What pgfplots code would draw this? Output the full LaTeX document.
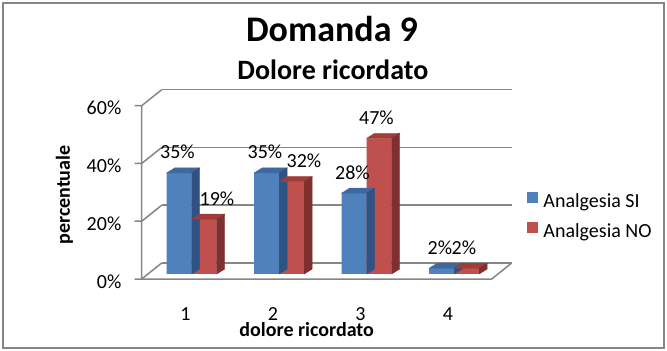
\documentclass[border=0pt]{standalone}
\usepackage{pgfplots}
\pgfplotsset{compat=1.18}
\usepackage{pgfplotstable}
\usepackage{fontspec}
\setmainfont{Carlito}
\definecolor{sifront}{HTML}{4F81BD}
\definecolor{sitop}{HTML}{3D68A0}
\definecolor{siside}{HTML}{2F5283}
\definecolor{nofront}{HTML}{C0504D}
\definecolor{notop}{HTML}{A03D3A}
\definecolor{noside}{HTML}{7D302E}
\definecolor{gridc}{HTML}{868686}
\pgfdeclareplotmark{nothing}{}
\pgfplotstableread{
x si no lsi lno
1 35 19 -8 31.5
2 35 32 -8 31
3 28 47 -8 16
4 2 2 -8 16
}\data
\newcommand{\sm}{\fontsize{20bp}{24bp}\selectfont}
\begin{document}
\begin{tikzpicture}
\useasboundingbox (0,0) rectangle (667bp,351bp);
\draw[gridc, line width=2.4bp] (2.9bp,3.2bp) rectangle (664bp,348.1bp);
\node[anchor=base] at (332bp,309.3bp) {\bfseries\fontsize{36bp}{40bp}\selectfont Domanda 9};
\node[anchor=base] at (332.9bp,271bp) {\bfseries\fontsize{28bp}{32bp}\selectfont Dolore ricordato};
\begin{axis}[
  at={(141.7bp,72bp)}, anchor=south west, scale only axis,
  width=350bp, height=173.3bp,
  xmin=0.5, xmax=4.5, ymin=0, ymax=60, clip=false,
  axis line style={draw=none}, tick style={draw=none},
  xtick={1,2,3,4}, xticklabels={1,2,3,4},
  ytick={0,20,40,60}, yticklabels={0\%,20\%,40\%,60\%},
  xticklabel style={anchor=base, inner sep=0pt, yshift=-41bp, font=\sm},
  yticklabel style={anchor=base east, inner sep=0pt, xshift=-20.2bp, yshift=-9bp, font=\sm},
  ymajorgrids, major grid style={draw=gridc, line width=1.5bp, xshift=20bp, yshift=16bp},
  xlabel={\textbf{dolore ricordato}},
  xlabel style={at={(axis description cs:0.4714,-0.3290)}, anchor=base, inner sep=0pt, font=\sm},
  ylabel={\textbf{percentuale}},
  ylabel style={at={(axis description cs:-0.2049,0.4847)}, anchor=base, inner sep=0pt, font=\sm},
  legend style={draw=none, fill=none, at={(1.1017,0.502)}, anchor=north west, inner sep=0pt,
    row sep=10bp, column sep=5bp, font=\sm,
    nodes={inner sep=0pt, text height=14bp, text depth=5bp}},
  legend cell align=left,
]
\draw[gridc, line width=1.5bp] (axis cs:0.5,60) -- (axis cs:0.5,0) -- (axis cs:4.5,0) -- ([xshift=20bp,yshift=16bp]axis cs:4.5,0);
\draw[gridc, line width=1.5bp] ([xshift=-7bp]axis cs:0.5,0) -- (axis cs:0.5,0) -- ([xshift=20bp,yshift=16bp]axis cs:0.5,0);
\draw[gridc, line width=1.5bp] ([xshift=-7bp]axis cs:0.5,20) -- (axis cs:0.5,20) -- ([xshift=20bp,yshift=16bp]axis cs:0.5,20);
\draw[gridc, line width=1.5bp] ([xshift=-7bp]axis cs:0.5,40) -- (axis cs:0.5,40) -- ([xshift=20bp,yshift=16bp]axis cs:0.5,40);
\draw[gridc, line width=1.5bp] ([xshift=-7bp]axis cs:0.5,60) -- (axis cs:0.5,60) -- ([xshift=20bp,yshift=16bp]axis cs:0.5,60);

\addplot[ybar, bar width=25bp, bar shift=-6.25bp, fill=sifront, draw=none, yshift=5bp,
  legend image code/.code={\fill[sifront] (0bp,-5.5bp) rectangle (11bp,5.5bp);}]
  table[x=x,y=si]{\data};
\addlegendentry{Analgesia SI}
\addplot[forget plot, scatter, only marks, mark=nothing,
  visualization depends on={\thisrow{si} \as \vv},
  scatter/@pre marker code/.code={%
    \pgfkeys{/pgf/fpu=false}%
    \pgfmathsetmacro\yb{10-\vv*2.8883}%
    \pgfmathsetmacro\yc{5-\vv*2.8883}%
    \fill[sitop] (-18.75bp,5bp) -- (-10.75bp,10bp) -- (14.25bp,10bp) -- (6.25bp,5bp) -- cycle;
    \fill[siside] (6.25bp,5bp) -- (14.25bp,10bp) -- (14.25bp,\yb bp) -- (6.25bp,\yc bp) -- cycle;
  },
  scatter/@post marker code/.code={}]
  table[x=x,y=si]{\data};

\addplot[ybar, bar width=25bp, bar shift=18.75bp, fill=nofront, draw=none, yshift=5bp,
  legend image code/.code={\fill[nofront] (0bp,-5.5bp) rectangle (11bp,5.5bp);}]
  table[x=x,y=no]{\data};
\addlegendentry{Analgesia NO}
\addplot[forget plot, scatter, only marks, mark=nothing,
  visualization depends on={\thisrow{no} \as \vv},
  scatter/@pre marker code/.code={%
    \pgfkeys{/pgf/fpu=false}%
    \pgfmathsetmacro\yb{10-\vv*2.8883}%
    \pgfmathsetmacro\yc{5-\vv*2.8883}%
    \fill[notop] (6.25bp,5bp) -- (14.25bp,10bp) -- (39.25bp,10bp) -- (31.25bp,5bp) -- cycle;
    \fill[noside] (31.25bp,5bp) -- (39.25bp,10bp) -- (39.25bp,\yb bp) -- (31.25bp,\yc bp) -- cycle;
  },
  scatter/@post marker code/.code={}]
  table[x=x,y=no]{\data};

\addplot[forget plot, only marks, mark=nothing, point meta=y,
  visualization depends on={\thisrow{lsi} \as \lx},
  nodes near coords={\pgfmathprintnumber[assume math mode=true]{\pgfplotspointmeta}\%},
  every node near coord/.append style={anchor=base, xshift=\lx bp, yshift=19bp, font=\sm, inner sep=0pt, text=black}]
  table[x=x,y=si]{\data};
\addplot[forget plot, only marks, mark=nothing, point meta=y,
  visualization depends on={\thisrow{lno} \as \lx},
  nodes near coords={\pgfmathprintnumber[assume math mode=true]{\pgfplotspointmeta}\%},
  every node near coord/.append style={anchor=base, xshift=\lx bp, yshift=19bp, font=\sm, inner sep=0pt, text=black}]
  table[x=x,y=no]{\data};
\end{axis}
\end{tikzpicture}
\end{document}
